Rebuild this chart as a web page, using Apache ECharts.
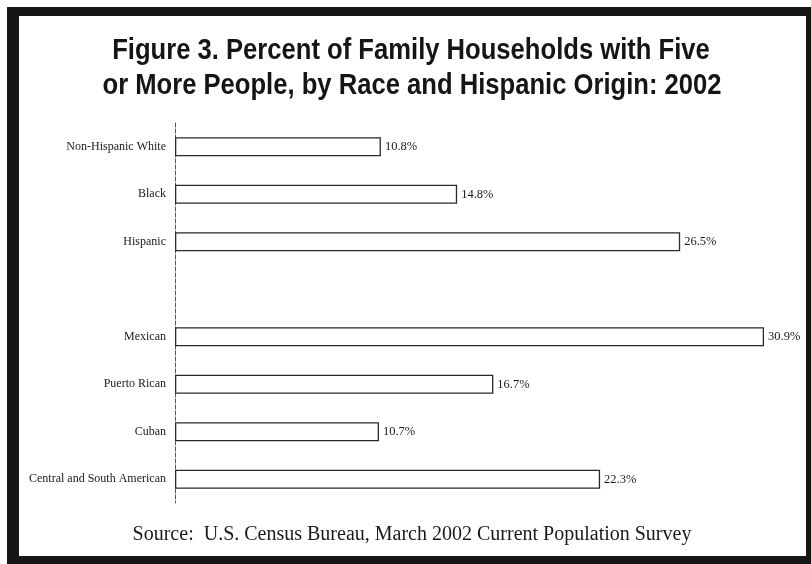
<!DOCTYPE html>
<html>
<head>
<meta charset="utf-8">
<script src="https://cdn.jsdelivr.net/npm/echarts@6/dist/echarts.min.js"></script>
<style>
  html, body { margin: 0; padding: 0; background: #fff; }
  #chart { width: 811px; height: 564px; }
</style>
</head>
<body>
<div id="chart"></div>
<script>
// Categories top to bottom; the empty entry leaves a blank row between groups
const categories = [
  'Non-Hispanic White', 'Black', 'Hispanic', '',
  'Mexican', 'Puerto Rican', 'Cuban', 'Central and South American'
];
const percents = [10.8, 14.8, 26.5, null, 30.9, 16.7, 10.7, 22.3];

const titleLines = [
  'Figure 3. Percent of Family Households with Five',
  'or More People, by Race and Hispanic Origin: 2002'
];
const sourceNote = 'Source:  U.S. Census Bureau, March 2002 Current Population Survey';

const serif = '"Liberation Serif", "Times New Roman", "DejaVu Serif", serif';
const titleFont = 'bold 30px "Liberation Sans", Arial, sans-serif';

// Squeeze the bold sans title horizontally so it reads like a condensed face
const ctx = document.createElement('canvas').getContext('2d');
ctx.font = titleFont;
const titleWidth = ctx.measureText(titleLines[1]).width;
const squeeze = 619 / titleWidth;

const chart = echarts.init(document.getElementById('chart'), null, { renderer: 'canvas' });

chart.setOption({
  backgroundColor: '#ffffff',
  animation: false,
  graphic: [
    // thick dark frame around the figure
    {
      type: 'rect',
      z: -10,
      shape: { x: 7, y: 7, width: 804, height: 557 },
      style: { fill: '#161616' },
      silent: true
    },
    {
      type: 'rect',
      z: -9,
      shape: { x: 19, y: 16, width: 787, height: 540 },
      style: { fill: '#ffffff' },
      silent: true
    },
    {
      type: 'text',
      x: 411,
      y: 36,
      scaleX: squeeze,
      silent: true,
      style: {
        text: titleLines[0],
        font: titleFont,
        fill: '#151515',
        align: 'center',
        verticalAlign: 'top'
      }
    },
    {
      type: 'text',
      x: 412,
      y: 71,
      scaleX: squeeze,
      silent: true,
      style: {
        text: titleLines[1],
        font: titleFont,
        fill: '#151515',
        align: 'center',
        verticalAlign: 'top'
      }
    },
    {
      type: 'text',
      x: 412,
      y: 525,
      silent: true,
      style: {
        text: sourceNote,
        font: '20px ' + serif,
        fill: '#1a1a1a',
        align: 'center',
        verticalAlign: 'top'
      }
    }
  ],
  grid: {
    left: 175,
    top: 123,
    width: 610,
    height: 380,
    containLabel: false
  },
  xAxis: {
    type: 'value',
    min: 0,
    max: 32,
    show: false
  },
  yAxis: {
    type: 'category',
    data: categories,
    inverse: true,
    axisLine: {
      show: true,
      lineStyle: { color: '#555', width: 1, type: [4, 2] }
    },
    axisTick: { show: false },
    axisLabel: {
      margin: 9,
      fontFamily: serif,
      fontSize: 12,
      color: '#1a1a1a'
    }
  },
  series: [
    {
      type: 'bar',
      data: percents,
      barWidth: 19,
      itemStyle: {
        color: '#ffffff',
        borderColor: '#2a2a2a',
        borderWidth: 1.3
      },
      label: {
        show: true,
        position: 'right',
        distance: 4,
        fontFamily: serif,
        fontSize: 12.5,
        color: '#1a1a1a',
        formatter: p => p.value == null ? '' : p.value.toFixed(1) + '%'
      }
    }
  ]
});
</script>
</body>
</html>
